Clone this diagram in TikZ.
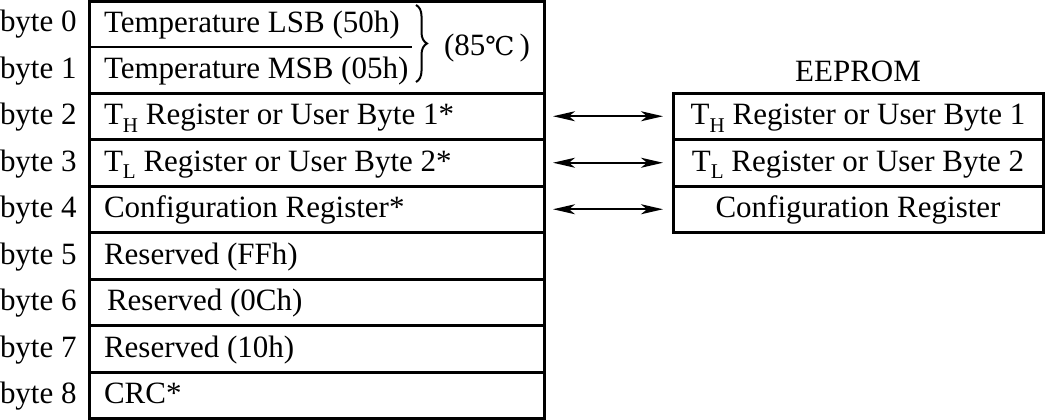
\documentclass[tikz,border=0pt]{standalone}
\usepackage{fontspec}
\setmainfont{Liberation Serif}
\newfontfamily\degfont{DejaVu Serif}
\usetikzlibrary{arrows.meta,decorations.pathreplacing}
\newcommand\lowsub[1]{\raisebox{-7.5pt}{\fontsize{21}{24}\selectfont #1}}
\begin{document}
\begin{tikzpicture}[x=1pt,y=-1pt,
  every node/.style={font=\fontsize{31}{36}\selectfont, inner sep=0pt, outer sep=0pt, text height=23pt, text depth=6pt},
  topbox/.style={draw, line width=3pt, minimum width=455pt, minimum height=91.5pt, anchor=north west},
  cell/.style={draw, line width=3pt, minimum width=455pt, minimum height=46.5pt, anchor=north west,
    label={[anchor=west, xshift=15pt, font=\fontsize{31}{36}\selectfont]west:#1}},
  ecell/.style={draw, line width=3pt, minimum width=370pt, minimum height=46.5pt, anchor=north west, align=center},
  lbl/.style={anchor=west},
  tlbl/.style={anchor=west},
  dbl/.style={line width=2pt, {Stealth[length=22pt,width=10pt,inset=6pt]}-{Stealth[length=22pt,width=10pt,inset=6pt]}, shorten <=9pt, shorten >=10pt}]
\useasboundingbox (0,0) rectangle (1055,420);
% left memory
\node[topbox] (top) at (89,1.5) {};
\node[tlbl] (t0) at (104,24) {Temperature LSB (50h)};
\node[tlbl] (t1) at (104,70) {Temperature MSB (05h)};
\coordinate (sepend) at (412,47);
\draw[line width=2pt] (top.west |- sepend) -- (sepend);
\coordinate (b1) at (416,5);
\coordinate (b2) at (416,82);
\draw[line width=2pt, decorate, decoration={brace, amplitude=11pt}] (b1) -- (b2);
\node[tlbl] (deg) at (444,47) {(85{\degfont\fontsize{26}{30}\selectfont ℃}\,)};
\node[cell={T\lowsub{H} Register or User Byte 1*}] (r2) at (89,93) {};
\node[cell={T\lowsub{L} Register or User Byte 2*}] (r3) at (89,139.5) {};
\node[cell={Configuration Register*}] (r4) at (89,186) {};
\node[cell={Reserved (FFh)}] (r5) at (89,232.5) {};
\node[cell={\hspace{3pt}Reserved (0Ch)}] (r6) at (89,279) {};
\node[cell={Reserved (10h)}] (r7) at (89,325.5) {};
\node[cell={CRC*}] (r8) at (89,372) {};
\foreach \i in {0,...,8}{
  \node[lbl] (b\i) at (0,23.25+46.5*\i) {byte \i};
}
% EEPROM
\node (eh) at (858,73) {EEPROM};
\node[ecell] (e2) at (673,93) {T\lowsub{H} Register or User Byte 1};
\node[ecell] (e3) at (673,139.5) {T\lowsub{L} Register or User Byte 2};
\node[ecell] (e4) at (673,186) {Configuration Register};
\draw[dbl] (r2.east) -- (e2.west);
\draw[dbl] (r3.east) -- (e3.west);
\draw[dbl] (r4.east) -- (e4.west);
\end{tikzpicture}
\end{document}
